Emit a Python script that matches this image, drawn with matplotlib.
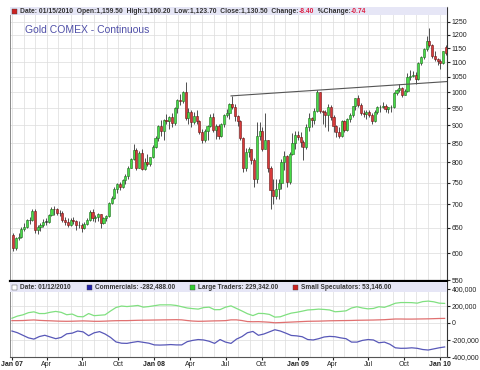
import pandas as pd
import matplotlib
matplotlib.use('Agg')
import matplotlib.pyplot as plt
import matplotlib.dates as mdates
from matplotlib.patches import Rectangle
from matplotlib.ticker import FixedLocator, NullLocator, FuncFormatter

plt.rcParams['font.family'] = ['Liberation Sans', 'DejaVu Sans']

# weekly gold candles, first week ending 2007-01-05
first_week = '2007-01-05'
opens = [635, 609, 629, 631, 648, 652, 666, 666, 686, 645, 652, 655, 663, 663, 677, 690, 689, 681, 681, 666,
         663, 656, 667, 664, 655, 656, 650, 657, 667, 683, 670, 673, 679, 661, 670, 674, 703, 715, 736, 748,
         741, 756, 766, 787, 808, 833, 787, 825, 784, 801, 797, 813,
         840, 865, 898, 884, 914, 912, 924, 906, 951, 975, 971, 1001, 920, 938, 909, 926, 912, 882, 859, 884,
         899, 925, 886, 899, 870, 903, 929, 935, 963, 955, 927, 912, 864, 786, 826, 834, 806, 760, 869, 884,
         836, 858, 786, 734, 718, 736, 749, 801, 816, 752, 822, 852,
         873, 867, 854, 840, 896, 920, 914, 941, 1000, 941, 940, 930, 955, 923, 898, 882, 871, 912, 886, 917,
         931, 956, 980, 961, 937, 932, 940, 930, 913, 938, 953, 954, 958, 947, 953, 955, 996, 1006, 1012, 991,
         1004, 1050, 1052, 1056, 1041, 1096, 1119, 1147, 1175, 1161, 1121, 1111,
         1104, 1096, 1155]
highs = [640, 632, 640, 652, 660, 668, 672, 690, 690, 656, 660, 668, 670, 680, 694, 696, 692, 688, 685, 672,
         670, 670, 672, 667, 664, 659, 662, 670, 688, 690, 678, 682, 680, 673, 678, 706, 720, 740, 750, 752,
         760, 772, 790, 812, 848, 838, 830, 834, 810, 821, 815, 845,
         870, 900, 915, 918, 933, 928, 935, 955, 978, 995, 1004, 1033, 950, 945, 940, 945, 915, 890, 890, 900,
         932, 935, 905, 905, 908, 933, 948, 967, 988, 962, 930, 915, 868, 838, 840, 836, 810, 910, 910, 895,
         935, 860, 790, 760, 760, 760, 808, 830, 820, 827, 878, 885,
         885, 880, 860, 905, 935, 925, 950, 1007, 1000, 945, 945, 962, 960, 930, 900, 895, 915, 915, 920, 935,
         958, 983, 990, 965, 945, 945, 945, 935, 945, 958, 960, 970, 962, 955, 960, 1000, 1010, 1025, 1015, 1010,
         1064, 1071, 1070, 1065, 1100, 1122, 1150, 1195, 1227, 1165, 1140, 1115,
         1110, 1140, 1162]
lows = [603, 605, 625, 629, 644, 650, 658, 664, 640, 637, 643, 652, 655, 660, 675, 677, 676, 674, 662, 656,
        652, 654, 658, 645, 650, 642, 648, 655, 665, 664, 662, 665, 650, 658, 665, 672, 700, 712, 725, 733,
        738, 746, 758, 785, 805, 782, 785, 782, 780, 792, 790, 810,
        838, 855, 870, 860, 905, 890, 895, 900, 935, 960, 965, 915, 903, 894, 905, 903, 875, 850, 853, 860,
        895, 880, 863, 862, 868, 895, 923, 918, 948, 912, 898, 860, 775, 778, 815, 795, 740, 750, 860, 830,
        835, 775, 690, 700, 712, 712, 736, 780, 740, 748, 820, 836,
        860, 840, 805, 835, 885, 895, 905, 940, 935, 905, 895, 885, 915, 880, 866, 865, 868, 880, 885, 910,
        925, 945, 955, 930, 925, 918, 925, 905, 910, 933, 940, 950, 940, 935, 940, 950, 990, 1000, 985, 990,
        1000, 1040, 1050, 1025, 1040, 1090, 1110, 1140, 1155, 1115, 1105, 1090,
        1075, 1095, 1124]
closes = [609, 629, 631, 648, 652, 666, 666, 686, 645, 652, 655, 663, 663, 677, 690, 689, 681, 681, 666, 663,
          656, 667, 664, 655, 656, 650, 657, 667, 683, 670, 673, 679, 661, 670, 674, 703, 715, 736, 748, 741,
          756, 766, 787, 808, 833, 787, 825, 784, 801, 797, 813, 840,
          865, 898, 884, 914, 912, 924, 906, 951, 975, 971, 1001, 920, 938, 909, 926, 912, 882, 859, 884, 899,
          925, 886, 899, 870, 903, 929, 935, 963, 955, 927, 912, 864, 786, 826, 834, 806, 760, 869, 884, 836,
          858, 786, 734, 718, 736, 749, 801, 816, 752, 822, 852, 873,
          867, 854, 840, 896, 920, 914, 941, 1000, 941, 940, 930, 955, 923, 898, 882, 871, 912, 886, 917, 931,
          956, 980, 961, 937, 932, 940, 930, 913, 938, 953, 954, 958, 947, 953, 955, 996, 1006, 1012, 991, 1004,
          1050, 1052, 1056, 1041, 1096, 1119, 1147, 1175, 1161, 1121, 1111, 1104,
          1096, 1138, 1130.5]

# resistance line through the Jul 2008 / Feb 2009 highs
trend_dates = ['2008-07-15', '2010-01-18']
trend_prices = [988, 1034]

# COT positions (thousands of contracts), every two weeks from 2007-01-02
cot_start = '2007-01-02'
commercials = [-95, -115, -145, -175, -190, -160, -145, -165, -185, -170, -128, -120, -95, -105, -150, -116,
               -102, -130, -170, -223, -238, -240, -228, -218, -228, -238, -258, -260, -258, -254, -258, -258,
               -220, -205, -195, -200, -215, -240, -195, -225, -240, -190, -160, -115, -100, -145, -130, -105,
               -80, -95, -120, -147, -152, -162, -195, -200, -185, -165, -158, -162, -175, -185, -225, -225,
               -205, -195, -200, -233, -225, -250, -292, -298, -297, -292, -298, -312, -318, -305, -292, -282]
large_traders = [55, 80, 95, 120, 130, 110, 110, 125, 135, 124, 96, 104, 75, 72, 110, 85,
                 90, 95, 140, 181, 198, 192, 198, 205, 185, 192, 202, 212, 212, 212, 205, 190,
                 175, 168, 162, 180, 185, 155, 156, 185, 200, 170, 140, 108, 86, 112, 110, 100,
                 68, 72, 95, 115, 125, 138, 152, 156, 162, 158, 152, 131, 135, 142, 175, 190,
                 175, 165, 170, 190, 183, 205, 231, 239, 239, 238, 232, 250, 256, 248, 232, 229]
small_specs = [27, 27, 28, 32, 35, 30, 27, 25, 22, 20, 19, 20, 22, 24, 22, 19,
               19, 21, 24, 26, 27, 27, 29, 31, 32, 33, 34, 35, 36, 37, 38, 36,
               28, 22, 19, 20, 22, 24, 25, 27, 36, 36, 28, 16, 14, 15, 12, 8,
               2, 4, 7, 10, 13, 16, 19, 20, 21, 23, 25, 26, 27, 28, 29, 31,
               32, 33, 34, 36, 38, 42, 46, 46, 45, 45, 46, 47, 48, 50, 52, 53]

price_ticks = [550, 600, 650, 700, 750, 800, 850, 900, 950, 1000, 1050, 1100, 1150, 1200, 1250]
cot_ticks = [-400000, -200000, 0, 200000, 400000]
x_ticks = ['2007-01-01', '2007-04-01', '2007-07-01', '2007-10-01', '2008-01-01', '2008-04-01', '2008-07-01',
           '2008-10-01', '2009-01-01', '2009-04-01', '2009-07-01', '2009-10-01', '2010-01-01']
x_labels = ['Jan 07', 'Apr', 'Jul', 'Oct', 'Jan 08', 'Apr', 'Jul', 'Oct', 'Jan 09', 'Apr', 'Jul', 'Oct', 'Jan 10']

weeks = pd.date_range(first_week, periods=len(closes), freq='7D')
cot_dates = pd.date_range(cot_start, periods=len(commercials), freq='14D')
xmin, xmax = pd.Timestamp('2006-12-28'), pd.Timestamp('2010-01-18')

grid_col = '#dcdcdc'
band_col = '#e6e6f6'

fig = plt.figure(figsize=(4.8, 3.7), dpi=100)
ax1 = fig.add_axes([0.0208, 0.2405, 0.9104, 0.7405])
ax2 = fig.add_axes([0.0208, 0.0351, 0.9104, 0.2027])

# ---- price panel ----
up_c, up_e = '#48dc48', '#1f6e1f'
dn_c, dn_e = '#d83a3a', '#6a1414'
ax1.vlines(weeks, lows, highs, color='#333333', lw=0.6, zorder=2)
bottoms = [min(o, c) for o, c in zip(opens, closes)]
heights = [max(abs(c - o), 1.0) for o, c in zip(opens, closes)]
face = [up_c if c > o else (dn_c if c < o else '#333333') for o, c in zip(opens, closes)]
edge = [up_e if c > o else (dn_e if c < o else '#333333') for o, c in zip(opens, closes)]
ax1.bar(weeks, heights, bottom=bottoms, width=5.4, color=face, edgecolor=edge, linewidth=0.4, zorder=3)
ax1.plot(pd.to_datetime(trend_dates), trend_prices, color='#555555', lw=0.8, zorder=4)

ax1.set_yscale('log')
ax1.set_ylim(549, 1310)
ax1.set_xlim(xmin, xmax)
ax1.yaxis.set_major_locator(FixedLocator(price_ticks))
ax1.yaxis.set_minor_locator(NullLocator())
ax1.yaxis.set_major_formatter(FuncFormatter(lambda v, p: '%d' % v))
ax1.yaxis.tick_right()
ax1.tick_params(axis='y', labelsize=5, length=2, pad=1.5, colors='#222222')
ax1.xaxis.set_major_locator(FixedLocator(mdates.date2num(pd.to_datetime(x_ticks))))
ax1.xaxis.set_minor_locator(mdates.MonthLocator())
ax1.tick_params(axis='x', which='both', length=0, labelbottom=False)
ax1.grid(True, which='both', axis='x', color=grid_col, lw=0.5, zorder=0)
ax1.grid(True, which='major', axis='y', color=grid_col, lw=0.5, zorder=0)
ax1.set_axisbelow(True)

ax1.add_patch(Rectangle((0, 0.970), 1, 0.030, transform=ax1.transAxes, color=band_col, zorder=5, lw=0))
ax1.add_patch(Rectangle((0.0046, 0.976), 0.0114, 0.018, transform=ax1.transAxes,
                        facecolor='#cc2222', edgecolor='#444444', lw=0.3, zorder=6))
hdr = dict(fontsize=4.9, fontweight='bold', color='#333333', va='center', zorder=6)
t = ax1.text(0.0229, 0.985, 'Date: 01/15/2010  Open:1,159.50  High:1,160.20  Low:1,123.70  Close:1,130.50  Change:',
             transform=ax1.transAxes, **hdr)
t = ax1.annotate('-8.40', xy=(1, 0.5), xycoords=t, ha='left', **dict(hdr, color='#dd2244'))
t = ax1.annotate('  %Change:', xy=(1, 0.5), xycoords=t, ha='left', **hdr)
ax1.annotate('-0.74', xy=(1, 0.5), xycoords=t, ha='left', **dict(hdr, color='#dd2244'))
ax1.text(0.034, 0.915, 'Gold COMEX - Continuous', transform=ax1.transAxes, fontsize=7.5,
         color='#5050a8', va='center', zorder=6)

for s in ['left', 'top']:
    ax1.spines[s].set_color('#777777')
    ax1.spines[s].set_linewidth(0.6)
ax1.spines['right'].set_color('#333333')
ax1.spines['right'].set_linewidth(0.8)
ax1.spines['bottom'].set_color('black')
ax1.spines['bottom'].set_linewidth(1.6)

# ---- COT panel ----
ax2.plot(cot_dates, [v * 1000 for v in large_traders], color='#80e080', lw=0.9, zorder=3)
ax2.plot(cot_dates, [v * 1000 for v in small_specs], color='#e07070', lw=0.9, zorder=3)
ax2.plot(cot_dates, [v * 1000 for v in commercials], color='#5858b8', lw=0.9, zorder=3)
ax2.set_xlim(xmin, xmax)
ax2.set_ylim(-400000, 480000)
ax2.yaxis.set_major_locator(FixedLocator(cot_ticks))
ax2.yaxis.set_major_formatter(FuncFormatter(lambda v, p: '{:,.0f}'.format(v)))
ax2.yaxis.tick_right()
ax2.tick_params(axis='y', labelsize=5, length=2, pad=1.5, colors='#222222')
ax2.xaxis.set_major_locator(FixedLocator(mdates.date2num(pd.to_datetime(x_ticks))))
ax2.xaxis.set_minor_locator(mdates.MonthLocator())
ax2.set_xticklabels(x_labels)
ax2.tick_params(axis='x', which='major', labelsize=5, length=2, pad=1, colors='#222222')
ax2.tick_params(axis='x', which='minor', length=0)
for lbl in ax2.get_xticklabels():
    if lbl.get_text().startswith('Jan'):
        lbl.set_fontweight('bold')
ax2.grid(True, which='both', axis='x', color=grid_col, lw=0.5, zorder=0)
ax2.grid(True, which='major', axis='y', color=grid_col, lw=0.5, zorder=0)
ax2.set_axisbelow(True)

ax2.add_patch(Rectangle((0, 0.867), 1, 0.133, transform=ax2.transAxes, color=band_col, zorder=5, lw=0))
legend_items = [('#ffffff', 'Date: 01/12/2010'),
                ('#2020aa', 'Commercials: -282,488.00'),
                ('#33cc33', 'Large Traders: 229,342.00'),
                ('#cc2222', 'Small Speculators: 53,146.00')]
sq_x = [0.0046, 0.176, 0.412, 0.648]
for (col, txt), x0 in zip(legend_items, sq_x):
    ax2.add_patch(Rectangle((x0, 0.893), 0.0114, 0.067, transform=ax2.transAxes,
                            facecolor=col, edgecolor='#444444', lw=0.3, zorder=6))
    ax2.text(x0 + 0.0183, 0.927, txt, transform=ax2.transAxes, fontsize=4.7, fontweight='bold',
             color='#333333', va='center', zorder=6)

for s in ['left', 'top']:
    ax2.spines[s].set_color('#777777')
    ax2.spines[s].set_linewidth(0.6)
ax2.spines['top'].set_visible(False)
ax2.spines['right'].set_color('#333333')
ax2.spines['right'].set_linewidth(0.8)
ax2.spines['bottom'].set_color('#555555')
ax2.spines['bottom'].set_linewidth(0.8)

fig.savefig('out.png', dpi=100)
